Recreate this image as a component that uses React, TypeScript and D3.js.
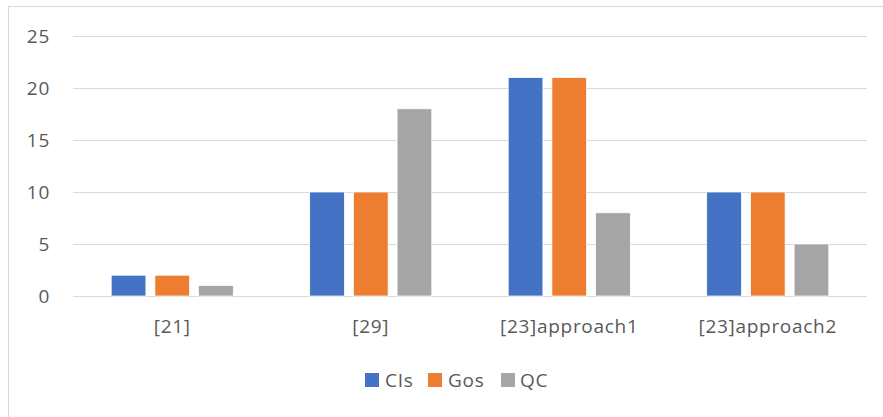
import React from "react";
import * as d3 from "d3";

const categories = ["[21]", "[29]", "[23]approach1", "[23]approach2"];
const seriesNames = ["CIs", "Gos", "QC"];
const cisValues = [2, 10, 21, 10];
const gosValues = [2, 10, 21, 10];
const qcValues = [1, 18, 8, 5];
const yTicks = [0, 5, 10, 15, 20, 25];
const colors = ["#4472C4", "#ED7D31", "#A5A5A5"];

const W = 883;
const H = 417;
const plotLeft = 73;
const plotRight = 867;
const yTop = 36;
const yBottom = 296;
const FONT = "'Open Sans', Lato, sans-serif";
const FS = 19;
const LS = 0.7;

export default function App() {
  const series = [cisValues, gosValues, qcValues];
  const x0 = d3.scaleBand<string>().domain(categories).range([plotLeft, plotRight]).padding(0);
  const bw = x0.bandwidth();
  const groupW = 122.1;
  const x1 = d3
    .scaleBand<string>()
    .domain(seriesNames)
    .range([(bw - groupW) / 2, (bw + groupW) / 2])
    .paddingInner(0.206)
    .paddingOuter(0);
  const y = d3.scaleLinear().domain([0, 25]).range([yBottom, yTop]);

  const legendItems = [
    { name: "CIs", sq: 365, tx: 385 },
    { name: "Gos", sq: 428, tx: 448 },
    { name: "QC", sq: 501, tx: 520 },
  ];

  return (
    <svg
      width={W}
      height={H}
      style={{ position: "absolute", left: 0, top: 0, display: "block", background: "#fff" }}
    >
      <rect x={8.5} y={6.5} width={W} height={H} fill="#fff" stroke="#D9D9D9" strokeWidth={1} />
      {yTicks.map((t) => (
        <g key={t}>
          <line x1={plotLeft} x2={plotRight} y1={Math.round(y(t)) + 0.5} y2={Math.round(y(t)) + 0.5} stroke="#D9D9D9" strokeWidth={1} />
          <text
            x={50}
            y={y(t)}
            dy="0.36em"
            textAnchor="end"
            fontFamily={FONT}
            fontSize={FS}
            letterSpacing={LS}
            fill="#595959"
          >
            {t}
          </text>
        </g>
      ))}
      {categories.map((c, ci) => (
        <g key={c} transform={`translate(${x0(c)},0)`}>
          {seriesNames.map((s, si) => (
            <rect
              key={s}
              x={x1(s)}
              y={y(series[si][ci])}
              width={x1.bandwidth()}
              height={y(0) - y(series[si][ci])}
              fill={colors[si]}
              stroke="#fff"
              strokeWidth={0.75}
            />
          ))}
          <text
            x={bw / 2}
            y={333}
            textAnchor="middle"
            fontFamily={FONT}
            fontSize={FS}
            letterSpacing={LS}
            fill="#595959"
          >
            {c}
          </text>
        </g>
      ))}
      {legendItems.map((l, i) => (
        <g key={l.name}>
          <rect x={l.sq} y={373} width={14} height={14} fill={colors[i]} />
          <text x={l.tx} y={387} fontFamily={FONT} fontSize={FS} letterSpacing={LS} fill="#595959">
            {l.name}
          </text>
        </g>
      ))}
    </svg>
  );
}
